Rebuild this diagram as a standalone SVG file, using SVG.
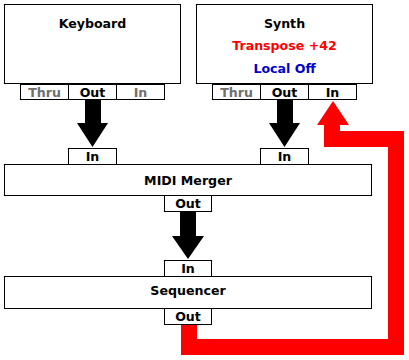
<svg xmlns="http://www.w3.org/2000/svg" width="409" height="360" viewBox="0 0 409 360">
<style>
rect{fill:#fff;stroke:#000;stroke-width:1}
text{font-family:"DejaVu Sans",Verdana,sans-serif;font-weight:bold;font-size:12.6px;text-anchor:middle}
.g{fill:#707070}
.r{fill:#f00}
.b{fill:#0000cc}
</style>
<rect width="409" height="360" style="fill:#fff;stroke:none"/>
<g id="connectors">
<path d="M189,324 V347 H396 V139 H332 V124" fill="none" stroke="#f00" stroke-width="16" stroke-linejoin="miter"/>
<polygon points="317,125 349,125 333,101" fill="#f00"/>
<polygon points="85,100 101,100 101,123 108,123 92.5,147 77,123 85,123" fill="#000"/>
<polygon points="277,100 293,100 293,123 300,123 284.5,147 269,123 277,123" fill="#000"/>
<polygon points="180,212 196,212 196,236 204,236 188,259 172,236 180,236" fill="#000"/>
</g>
<g id="keyboard">
<rect x="4.5" y="4.5" width="176" height="79"/>
<text x="92.5" y="28">Keyboard</text>
<rect x="20.5" y="84.5" width="48" height="15"/>
<rect x="68.5" y="84.5" width="48" height="15"/>
<rect x="116.5" y="84.5" width="48" height="15"/>
<text x="44.5" y="97" class="g">Thru</text>
<text x="92.5" y="97">Out</text>
<text x="140.5" y="97" class="g">In</text>
</g>
<g id="synth">
<rect x="196.5" y="4.5" width="176" height="79"/>
<text x="284.5" y="28">Synth</text>
<text x="284.5" y="50" class="r">Transpose +42</text>
<text x="284.5" y="73" class="b">Local Off</text>
<rect x="212.5" y="84.5" width="48" height="15"/>
<rect x="260.5" y="84.5" width="48" height="15"/>
<rect x="308.5" y="84.5" width="48" height="15"/>
<text x="236.5" y="97" class="g">Thru</text>
<text x="284.5" y="97">Out</text>
<text x="332.5" y="97">In</text>
</g>
<g id="merger">
<rect x="68.5" y="148.5" width="48" height="16"/>
<rect x="260.5" y="148.5" width="48" height="16"/>
<text x="92.5" y="161">In</text>
<text x="284.5" y="161">In</text>
<rect x="4.5" y="164.5" width="367" height="31"/>
<text x="188" y="185">MIDI Merger</text>
<rect x="164.5" y="195.5" width="47" height="16"/>
<text x="188" y="208">Out</text>
</g>
<g id="sequencer">
<rect x="164.5" y="260.5" width="47" height="16"/>
<text x="188" y="273">In</text>
<rect x="4.5" y="276.5" width="367" height="32"/>
<text x="188" y="295">Sequencer</text>
<rect x="164.5" y="308.5" width="47" height="16"/>
<text x="188" y="321">Out</text>
</g>
</svg>
